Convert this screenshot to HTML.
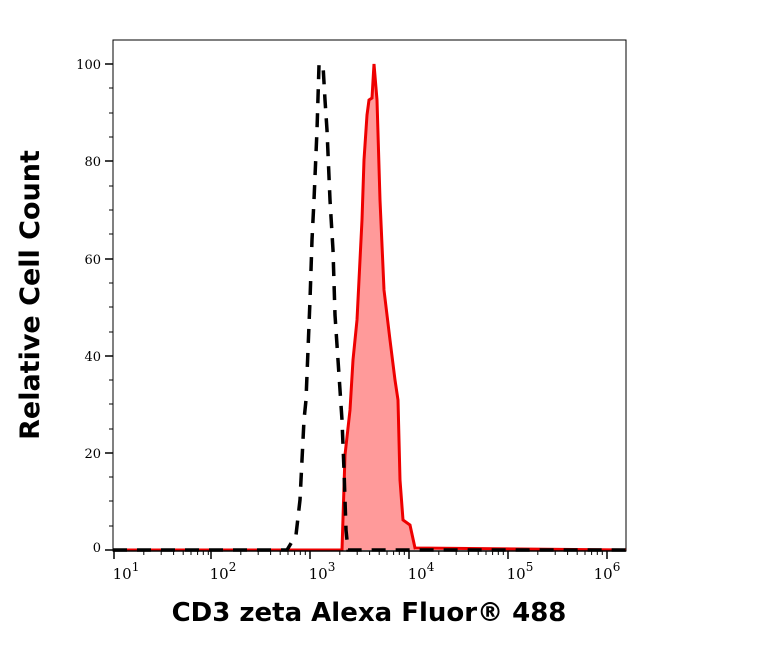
<!DOCTYPE html>
<html><head><style>body{margin:0;background:#fff}svg text{font-family:"DejaVu Serif","Liberation Serif",serif}</style></head><body>
<svg width="763" height="666" xmlns="http://www.w3.org/2000/svg">
<rect x="113" y="40" width="513" height="511" fill="none" stroke="#000" stroke-width="1"/>
<polygon points="342,550 345,455 350,410 353,360 357,320 362,220 364,160 367,115 369,100 372,98 374,64 377,100 380,200 384,290 390,340 395,380 398,400 400,480 403,520 410,525 415,548 415,550" fill="#ff9a9a"/>
<polyline points="113,550 342,550 345,455 350,410 353,360 357,320 362,220 364,160 367,115 369,100 372,98 374,64 377,100 380,200 384,290 390,340 395,380 398,400 400,480 403,520 410,525 415,548 626,550" fill="none" stroke="#e00" stroke-width="3"/>
<polyline points="113,550 287,550 296,535 300,500 304,420 306,400 310,300 312,240 314,200 317,130 319,65 321,66 323,65 325,100 327,130 330,200 333,250 335,315 338,360 342,420 344,470 346,530 348,550 626,550" fill="none" stroke="#000" stroke-width="3.5" stroke-dasharray="14,10"/>
<line x1="113" y1="551" x2="626" y2="551" stroke="#000" stroke-width="1.5"/>
<g stroke="#000" stroke-width="1.5">
<line x1="105" y1="64" x2="113" y2="64"/><line x1="105" y1="161" x2="113" y2="161"/><line x1="105" y1="259" x2="113" y2="259"/><line x1="105" y1="356" x2="113" y2="356"/><line x1="105" y1="453" x2="113" y2="453"/><line x1="105" y1="550" x2="113" y2="550"/>
<line x1="114" y1="551" x2="114" y2="559"/><line x1="211" y1="551" x2="211" y2="559"/><line x1="310" y1="551" x2="310" y2="559"/><line x1="409" y1="551" x2="409" y2="559"/><line x1="508" y1="551" x2="508" y2="559"/><line x1="607" y1="551" x2="607" y2="559"/>
</g>
<g stroke="#000" stroke-width="1" id="m">
<line x1="143.8" y1="551" x2="143.8" y2="555"/><line x1="161.2" y1="551" x2="161.2" y2="555"/><line x1="173.6" y1="551" x2="173.6" y2="555"/><line x1="183.2" y1="551" x2="183.2" y2="555"/><line x1="191" y1="551" x2="191" y2="555"/><line x1="197.6" y1="551" x2="197.6" y2="555"/><line x1="203.3" y1="551" x2="203.3" y2="555"/><line x1="208.3" y1="551" x2="208.3" y2="555"/>
</g>
<use href="#m" x="97"/><use href="#m" x="196"/><use href="#m" x="295"/><use href="#m" x="394"/>
<g stroke="#000" stroke-width="1"><line x1="109" y1="88" x2="113" y2="88"/><line x1="109" y1="113" x2="113" y2="113"/><line x1="109" y1="137" x2="113" y2="137"/><line x1="109" y1="186" x2="113" y2="186"/><line x1="109" y1="210" x2="113" y2="210"/><line x1="109" y1="234" x2="113" y2="234"/><line x1="109" y1="283" x2="113" y2="283"/><line x1="109" y1="307" x2="113" y2="307"/><line x1="109" y1="332" x2="113" y2="332"/><line x1="109" y1="380" x2="113" y2="380"/><line x1="109" y1="404" x2="113" y2="404"/><line x1="109" y1="429" x2="113" y2="429"/><line x1="109" y1="477" x2="113" y2="477"/><line x1="109" y1="501" x2="113" y2="501"/><line x1="109" y1="526" x2="113" y2="526"/></g>
<g font-size="13" text-anchor="end">
<text x="101" y="69">100</text><text x="101" y="166">80</text><text x="101" y="264">60</text><text x="101" y="361">40</text><text x="101" y="458">20</text><text x="101" y="552">0</text>
</g>
<g font-size="15" text-anchor="middle">
<text x="126" y="579">10<tspan font-size="12" dy="-8">1</tspan></text>
<text x="223" y="579">10<tspan font-size="12" dy="-8">2</tspan></text>
<text x="322" y="579">10<tspan font-size="12" dy="-8">3</tspan></text>
<text x="421" y="579">10<tspan font-size="12" dy="-8">4</tspan></text>
<text x="520" y="579">10<tspan font-size="12" dy="-8">5</tspan></text>
<text x="607" y="579">10<tspan font-size="12" dy="-8">6</tspan></text>
</g>
<text x="369" y="621" font-weight="bold" font-size="26" text-anchor="middle" style="font-family:'DejaVu Sans',sans-serif">CD3 zeta Alexa Fluor® 488</text>
<text transform="translate(39,295) rotate(-90)" font-weight="bold" font-size="27" text-anchor="middle" style="font-family:'DejaVu Sans',sans-serif">Relative Cell Count</text>
</svg>
</body></html>
